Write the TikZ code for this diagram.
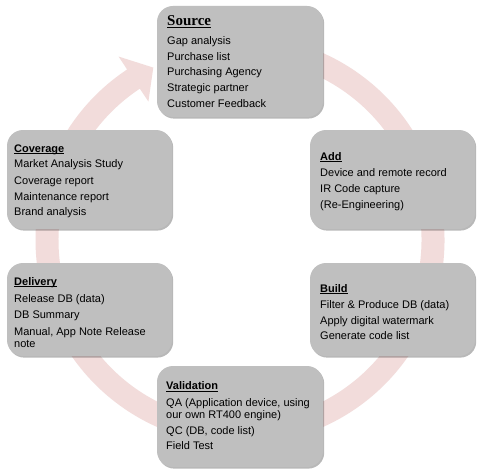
\documentclass[tikz,border=0pt]{standalone}
\usepackage{fontspec}
\setmainfont{Liberation Sans}
\newfontfamily\serifttl{Liberation Serif}
\usetikzlibrary{shadows}
\definecolor{ringc}{RGB}{242,220,219}
\definecolor{boxc}{RGB}{191,191,191}
\newcommand\ttlul[1]{\setbox0\hbox{#1}\rlap{\rule[-2.3pt]{\wd0}{1.2pt}}\box0}
\tikzset{
  box/.style={fill=boxc, rounded corners=16pt, inner sep=0pt,
    drop shadow={shadow xshift=1.2pt, shadow yshift=-1.6pt, opacity=0.28, fill=black}},
  txt/.style={anchor=base west, inner sep=0pt, font=\fontsize{11}{13}\selectfont},
  ttl/.style={txt, font=\fontsize{11}{13}\selectfont\bfseries},
  bigttl/.style={txt, font=\fontsize{15}{17}\selectfont\serifttl\bfseries}
}
\begin{document}
\begin{tikzpicture}[x=1pt,y=1pt]
\useasboundingbox[fill=white] (0,0) rectangle (478,472);
% ring with arrowhead
\begin{scope}[shift={(240,232)}]
\fill[ringc] (95:204.5pt) arc[start angle=95, end angle=-236.5, radius=204.5pt]
  -- (-236.5:220pt) -- (-243.3:193pt) -- (-236.5:166pt) -- (-236.5:181.5pt)
  arc[start angle=-236.5, end angle=95, radius=181.5pt] -- cycle;
\end{scope}
% boxes
\node[box, minimum width=166pt, minimum height=111pt] (src) at (240,410.5) {};
\node[box, minimum width=165pt, minimum height=99pt] (cov) at (89.5,292.5) {};
\node[box, minimum width=165pt, minimum height=99pt] (add) at (392.5,292.5) {};
\node[box, minimum width=165pt, minimum height=93pt] (del) at (89.5,162.5) {};
\node[box, minimum width=165pt, minimum height=93pt] (bld) at (392.5,162.5) {};
\node[box, minimum width=166pt, minimum height=101pt] (val) at (240,55.5) {};
% Source
\node[bigttl] (s0) at (167,446) {\ttlul{Source}};
\node[txt] (s1) at (167,427.5) {Gap analysis};
\node[txt] (s2) at (167,411.8) {Purchase list};
\node[txt] (s3) at (167,396) {Purchasing Agency};
\node[txt] (s4) at (167,380.3) {Strategic partner};
\node[txt] (s5) at (167,364.5) {Customer Feedback};
% Coverage
\node[ttl] (c0) at (14,320) {\ttlul{Coverage}};
\node[txt] (c1) at (14,304.5) {Market Analysis Study};
\node[txt] (c2) at (14,288) {Coverage report};
\node[txt] (c3) at (14,272) {Maintenance report};
\node[txt] (c4) at (14,256.5) {Brand analysis};
% Add
\node[ttl] (a0) at (320,312) {\ttlul{Add}};
\node[txt] (a1) at (320,295.5) {Device and remote record};
\node[txt] (a2) at (320,280) {IR Code capture};
\node[txt] (a3) at (320,264) {(Re-Engineering)};
% Delivery
\node[ttl] (d0) at (14,187) {\ttlul{Delivery}};
\node[txt] (d1) at (14,170) {Release DB (data)};
\node[txt] (d2) at (14,153.5) {DB Summary};
\node[txt] (d3) at (14,137) {Manual, App Note Release};
\node[txt] (d4) at (14,124.5) {note};
% Build
\node[ttl] (b0) at (320,180) {\ttlul{Build}};
\node[txt] (b1) at (320,164) {Filter \& Produce DB (data)};
\node[txt] (b2) at (320,148) {Apply digital watermark};
\node[txt] (b3) at (320,132.5) {Generate code list};
% Validation
\node[ttl] (v0) at (166,82.5) {\ttlul{Validation}};
\node[txt] (v1) at (166,66) {QA (Application device, using};
\node[txt] (v2) at (166,53.5) {our own RT400 engine)};
\node[txt] (v3) at (166,37.5) {QC (DB, code list)};
\node[txt] (v4) at (166,23) {Field Test};
\end{tikzpicture}
\end{document}
